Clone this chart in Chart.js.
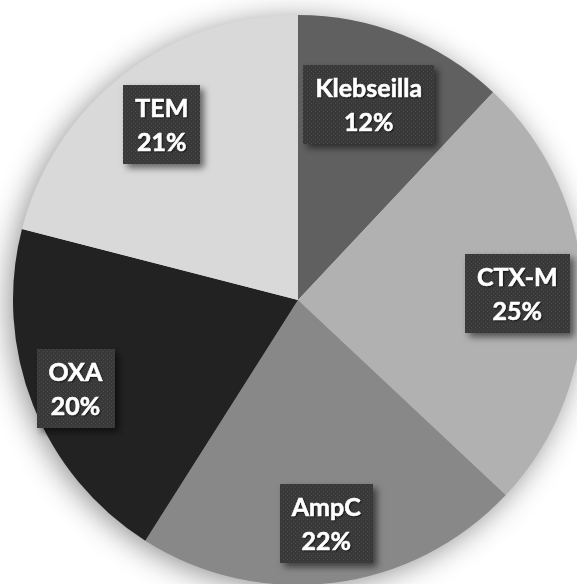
<!DOCTYPE html>
<html>
<head>
<meta charset="utf-8">
<script src="https://cdn.jsdelivr.net/npm/chart.js@4/dist/chart.umd.min.js"></script>
<style>
  html, body { margin: 0; padding: 0; background: #ffffff; overflow: hidden; }
  #wrap { position: absolute; left: 0; top: 0; width: 600px; height: 600px; }
</style>
</head>
<body>
<div id="wrap"><canvas id="pieChart"></canvas></div>
<script>
const labels = ['Klebseilla', 'CTX-M', 'AmpC', 'OXA', 'TEM']
const values = [12, 25, 22, 20, 21]
const colors = ['#606060', '#b1b1b1', '#888888', '#222222', '#d9d9d9']

// how far out (fraction of radius) each label box sits
const labelDist = [0.73, 0.77, 0.79, 0.84, 0.78]

// dark dotted fill used behind the labels
function makeDots(ctx) {
  const tile = document.createElement('canvas')
  tile.width = 4
  tile.height = 4
  const t = tile.getContext('2d')
  t.fillStyle = '#393939'
  t.fillRect(0, 0, 4, 4)
  t.fillStyle = '#4a4a4a'
  t.fillRect(1, 1, 1, 1)
  t.fillRect(3, 3, 1, 1)
  return ctx.createPattern(tile, 'repeat')
}

const pieShadow = {
  id: 'pieShadow',
  beforeDatasetsDraw(chart) {
    const arc = chart.getDatasetMeta(0).data[0]
    if (!arc) return
    const ctx = chart.ctx
    ctx.save()
    ctx.shadowColor = 'rgba(0,0,0,0.45)'
    ctx.shadowBlur = 30
    ctx.shadowOffsetX = -4
    ctx.shadowOffsetY = 4
    ctx.fillStyle = '#cccccc'
    ctx.beginPath()
    ctx.arc(arc.x, arc.y, arc.outerRadius - 1, 0, Math.PI * 2)
    ctx.fill()
    ctx.restore()
  }
}

const boxLabels = {
  id: 'boxLabels',
  afterDatasetsDraw(chart) {
    const ctx = chart.ctx
    const dots = makeDots(ctx)
    ctx.save()
    ctx.font = 'bold 25px Lato'
    ctx.textAlign = 'center'
    ctx.textBaseline = 'middle'
    chart.getDatasetMeta(0).data.forEach((arc, i) => {
      const mid = (arc.startAngle + arc.endAngle) / 2 - (i === 0 ? 0.03 : 0)
      const r = arc.outerRadius * labelDist[i]
      const cx = arc.x + Math.cos(mid) * r
      const cy = arc.y + Math.sin(mid) * r
      const lines = [labels[i], values[i] + '%']
      const w = Math.max(...lines.map(s => ctx.measureText(s).width)) + 24
      const h = 79

      ctx.save()
      ctx.shadowColor = 'rgba(0,0,0,0.55)'
      ctx.shadowBlur = 7
      ctx.shadowOffsetX = 4
      ctx.shadowOffsetY = 4
      ctx.fillStyle = dots
      ctx.fillRect(Math.round(cx - w / 2), Math.round(cy - h / 2), Math.round(w), h)
      ctx.restore()

      ctx.save()
      ctx.shadowColor = 'rgba(0,0,0,0.8)'
      ctx.shadowBlur = 2
      ctx.shadowOffsetX = 1
      ctx.shadowOffsetY = 1
      ctx.fillStyle = '#ffffff'
      ctx.strokeStyle = '#ffffff'
      ctx.lineWidth = 0.6
      ctx.fillText(lines[0], cx, cy - 15)
      ctx.fillText(lines[1], cx, cy + 19)
      ctx.shadowColor = 'transparent'
      ctx.strokeText(lines[0], cx, cy - 15)
      ctx.strokeText(lines[1], cx, cy + 19)
      ctx.restore()
    })
    ctx.restore()
  }
}

const myChart = new Chart(
  document.getElementById('pieChart'),
  {
    type: 'pie',
    data: {
      labels: labels,
      datasets: [
        {
          data: values,
          backgroundColor: colors,
          borderWidth: 0,
          hoverOffset: 0,
          offset: 0
        }
      ]
    },
    options: {
      responsive: true,
      maintainAspectRatio: false,
      animation: false,
      events: [],
      layout: { padding: { left: 13, top: 15, right: 17, bottom: 15 } },
      plugins: {
        legend: { display: false },
        tooltip: { enabled: false }
      }
    },
    plugins: [pieShadow, boxLabels]
  }
)
</script>
</body>
</html>
